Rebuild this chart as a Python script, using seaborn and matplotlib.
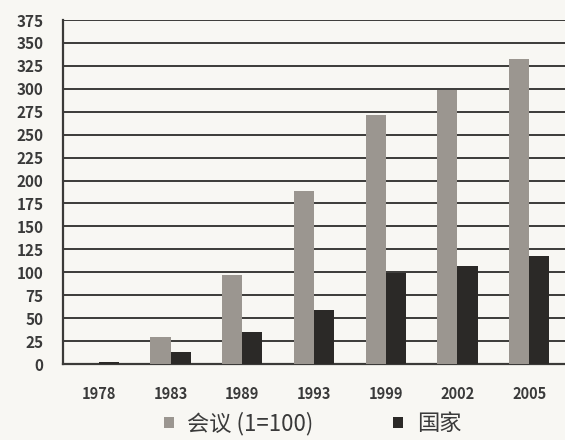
import matplotlib
matplotlib.use("Agg")
import matplotlib.pyplot as plt
import matplotlib.ticker as mticker
import pandas as pd
import seaborn as sns

# ---------------------------------------------------------------------------
# Data
# ---------------------------------------------------------------------------
years = ["1978", "1983", "1989", "1993", "1999", "2002", "2005"]
meetings = [0, 29, 97, 189, 271, 299, 332]      # 会议 (1=100)
countries = [2, 13, 35, 59, 99, 107, 118]       # 国家
series_names = ["会议 (1=100)", "国家"]
y_ticks = list(range(0, 376, 25))

BG = "#f8f7f3"
GRAY = "#9b9690"
DARK = "#2b2927"
LINE = "#3b3a38"

sns.set_theme(style="white")
plt.rcParams["font.family"] = ["Noto Sans CJK SC", "DejaVu Sans"]

df = pd.DataFrame({
    "year": years * 2,
    "series": [series_names[0]] * len(years) + [series_names[1]] * len(years),
    "value": meetings + countries,
})

fig = plt.figure(figsize=(5.65, 4.4), dpi=100, facecolor=BG)
ax = fig.add_axes([0.1115, 0.1727, 0.8885, 0.7818])
ax.set_facecolor(BG)

sns.barplot(
    data=df, x="year", y="value", hue="series", hue_order=series_names,
    palette=[GRAY, DARK], width=0.56, gap=0, saturation=1,
    edgecolor="none", linewidth=0, ax=ax, zorder=3,
)

ax.set_xlim(-0.386, 6.35)
ax.set_ylim(0, 375)
ax.set_xlabel("")
ax.set_ylabel("")

# horizontal grid lines
ax.yaxis.set_major_locator(mticker.FixedLocator(y_ticks))
ax.set_yticks(y_ticks)
ax.set_yticklabels([str(v) for v in y_ticks], fontsize=11, fontweight="bold",
                   color="#3a3a3a")
ax.grid(axis="y", color=LINE, linewidth=1.4, zorder=0)
ax.set_axisbelow(True)
ax.tick_params(axis="y", direction="out", length=6, width=1.4, color=LINE, pad=8)

# x: labels at group centres, tick marks at group boundaries
ax.set_xticks(range(len(years)))
ax.set_xticklabels(years, fontsize=10.5, fontweight="bold", color="#3a3a3a")
ax.set_xticks([i + 0.5 for i in range(-1, len(years))], minor=True)
ax.tick_params(axis="x", which="major", length=0, pad=16)
ax.tick_params(axis="x", which="minor", direction="out", length=6, width=1.4,
               color=LINE)

for s in ["top", "right"]:
    ax.spines[s].set_visible(False)
ax.spines["left"].set_color(LINE)
ax.spines["left"].set_linewidth(1.6)
ax.spines["bottom"].set_color(LINE)
ax.spines["bottom"].set_linewidth(1.6)

handles, labels = ax.get_legend_handles_labels()
ax.legend_.remove()
leg = fig.legend(handles, labels, loc="lower center", bbox_to_anchor=(0.553, -0.035),
                 ncol=2, frameon=False, fontsize=16, handlelength=0.45,
                 handleheight=0.45, handletextpad=0.6, columnspacing=3.6)
for t in leg.get_texts():
    t.set_color("#3a3a3a")

fig.savefig("out.png", dpi=100, facecolor=BG)
